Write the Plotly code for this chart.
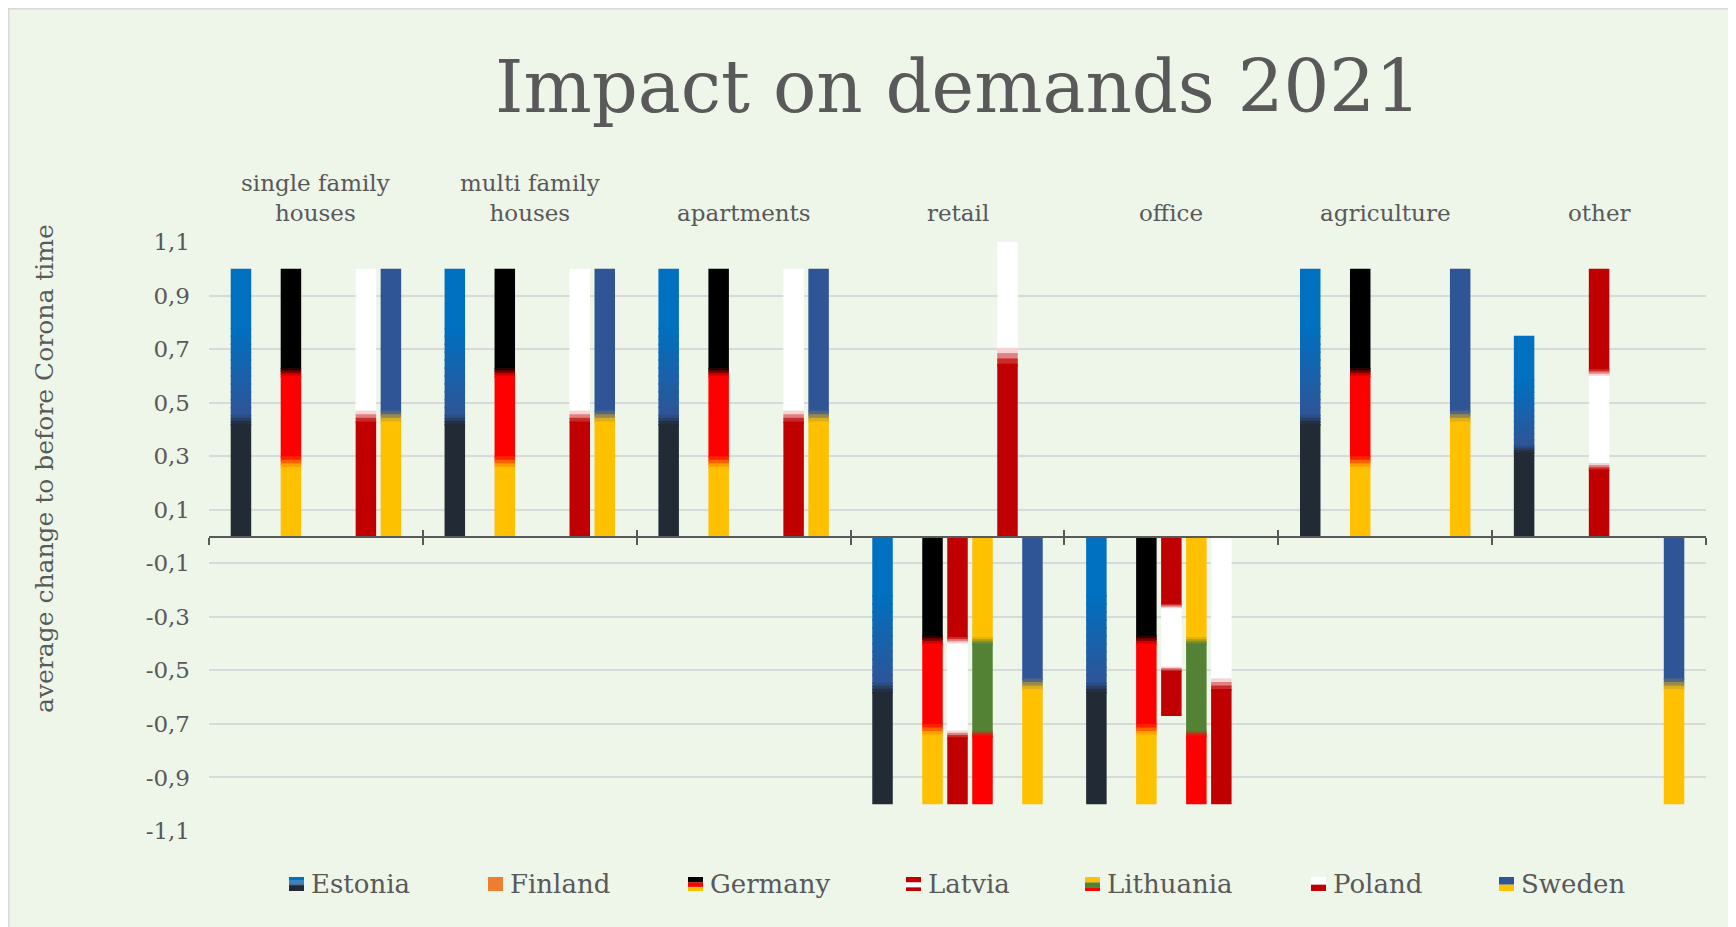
import plotly.graph_objects as go

# ---------------- data ----------------
categories = ["single family houses", "multi family houses", "apartments",
              "retail", "office", "agriculture", "other"]
category_labels = ["single family<br>houses", "multi family<br>houses", "apartments",
                   "retail", "office", "agriculture", "other"]
countries = ["Estonia", "Finland", "Germany", "Latvia", "Lithuania", "Poland", "Sweden"]

estonia = [1, 1, 1, -1, -1, 1, 0.75]
finland = [0, 0, 0, 0, 0, 0, 0]
germany = [1, 1, 1, -1, -1, 1, 0]
latvia = [0, 0, 0, -1, -0.67, 0, 1]
lithuania = [0, 0, 0, -1, -1, 0, 0]
poland = [1, 1, 1, 1.5, -1, 0, 0]
sweden = [1, 1, 1, -1, 0, 1, -1]

y_tick_values = [-1.1, -0.9, -0.7, -0.5, -0.3, -0.1, 0.1, 0.3, 0.5, 0.7, 0.9, 1.1]
y_tick_labels = ["-1,1", "-0,9", "-0,7", "-0,5", "-0,3", "-0,1",
                 "0,1", "0,3", "0,5", "0,7", "0,9", "1,1"]

title_text = "Impact on demands 2021"
y_title_text = "average change to before Corona time"

series = {"Estonia": estonia, "Finland": finland, "Germany": germany, "Latvia": latvia,
          "Lithuania": lithuania, "Poland": poland, "Sweden": sweden}

# ---------------- styles ----------------
FONT = "DejaVu Serif"
TXT = "#595959"
BG = "#EEF5E9"

# gradient stops (fraction from top of bar, colour) imitating the flag fills
FLAGS = {
    "Estonia": [(0, "#0070C0"), (0.22, "#0070C0"), (0.545, "#2E5597"), (0.58, "#222A35"), (1, "#222A35")],
    "Finland": [(0, "#ED7D31"), (1, "#ED7D31")],
    "Germany": [(0, "#000000"), (0.37, "#000000"), (0.40, "#FF0000"), (0.70, "#FF0000"),
                (0.74, "#FFC000"), (1, "#FFC000")],
    "Latvia": [(0, "#C00000"), (0.375, "#C00000"), (0.40, "#FFFFFF"), (0.725, "#FFFFFF"),
               (0.75, "#C00000"), (1, "#C00000")],
    "Lithuania": [(0, "#FFC000"), (0.375, "#FFC000"), (0.40, "#548235"), (0.725, "#548235"),
                  (0.745, "#FF0000"), (1, "#FF0000")],
    "Poland": [(0, "#FFFFFF"), (0.53, "#FFFFFF"), (0.57, "#C00000"), (1, "#C00000")],
    "Sweden": [(0, "#2F5597"), (0.53, "#2F5597"), (0.57, "#FFC000"), (1, "#FFC000")],
}
OVERLAP = 0.006   # each piece reaches slightly into the next one to hide seams

OFF = 8                      # page body margin
W, H = 1726, 919
ML, MT = 201, 234
MR = W - 1698
MB = H - 823
PW, PH = W - ML - MR, H - MT - MB


def px_x(page_x):
    return (page_x - OFF - ML) / PW


def px_y(page_y):
    return (H - MB - (page_y - OFF)) / PH


def hex_rgb(h):
    h = h.lstrip("#")
    return tuple(int(h[i:i + 2], 16) for i in (0, 2, 4))


def mix(c0, c1, t):
    a, b = hex_rgb(c0), hex_rgb(c1)
    return "rgb(%d,%d,%d)" % tuple(round(a[i] + (b[i] - a[i]) * t) for i in range(3))


def segments(stops):
    """Return (start, end, colour) pieces of the gradient fill."""
    segs = []
    for (p0, c0), (p1, c1) in zip(stops[:-1], stops[1:]):
        if p1 <= p0:
            continue
        if c0 == c1:
            segs.append([p0, p1, c0])
        else:
            n = max(3, int(round((p1 - p0) / 0.03)))
            for k in range(n):
                f0 = p0 + (p1 - p0) * k / n
                f1 = p0 + (p1 - p0) * (k + 1) / n
                segs.append([f0, f1, mix(c0, c1, (k + 0.5) / n)])
    for s in segs[:-1]:
        s[1] = min(1.0, s[1] + OVERLAP)
    return segs


fig = go.Figure()

for c in countries:
    vals = series[c]
    for f0, f1, col in segments(FLAGS[c]):
        bases, heights = [], []
        for v in vals:
            top, bot = max(v, 0), min(v, 0)
            h = top - bot
            s_top = top - f0 * h
            s_bot = top - f1 * h
            bases.append(s_bot)
            heights.append(s_top - s_bot)
        fig.add_trace(go.Bar(
            x=categories, y=heights, base=bases, name=c,
            marker=dict(color=col, line=dict(width=0)),
            offsetgroup=c, showlegend=False, hoverinfo="skip",
        ))

# helper trace for the upper half of the cross tick marks on the zero axis
fig.add_trace(go.Scatter(x=categories, y=[0] * len(categories), xaxis="x2",
                         mode="none", showlegend=False, hoverinfo="skip"))

annotations = []
for cat, lab in zip(categories, category_labels):
    annotations.append(dict(x=cat, xref="x", y=px_y(228), yref="paper", text=lab,
                            showarrow=False, xanchor="center", yanchor="bottom",
                            font=dict(family=FONT, size=23, color=TXT)))

annotations.append(dict(x=px_x(44), y=px_y(469), xref="paper", yref="paper",
                        text=y_title_text, textangle=-90, showarrow=False,
                        xanchor="center", yanchor="middle",
                        font=dict(family=FONT, size=25, color=TXT)))

shapes = [dict(type="rect", xref="paper", yref="paper", layer="below",
               x0=px_x(8.75), x1=px_x(1732.5), y0=px_y(960), y1=px_y(8.75),
               fillcolor=BG, line=dict(color="#D9D9D9", width=1.5))]

legend_x = [289, 488, 688, 906, 1085, 1311, 1499]
sw_top, sw_bot, sw_w = 877, 891, 15
for c, lx in zip(countries, legend_x):
    for f0, f1, col in segments(FLAGS[c]):
        shapes.append(dict(type="rect", xref="paper", yref="paper", layer="above",
                           x0=px_x(lx), x1=px_x(lx + sw_w),
                           y0=px_y(sw_top + f1 * (sw_bot - sw_top)),
                           y1=px_y(sw_top + f0 * (sw_bot - sw_top)),
                           fillcolor=col, line=dict(width=0)))
    annotations.append(dict(x=px_x(lx + 20), y=px_y(884), xref="paper", yref="paper",
                            text=c, showarrow=False, xanchor="left", yanchor="middle",
                            font=dict(family=FONT, size=26, color=TXT)))

fig.update_layout(
    width=W, height=H,
    margin=dict(l=ML, r=MR, t=MT, b=MB, pad=0),
    paper_bgcolor="white",
    plot_bgcolor="rgba(0,0,0,0)",
    barmode="group",
    bargap=0.182,
    bargroupgap=0.18,
    showlegend=False,
    title=dict(text=title_text, x=px_x(958), xref="paper", xanchor="center",
               y=1 - (87 - OFF) / H, yref="container", yanchor="middle",
               font=dict(family=FONT, size=72, color=TXT)),
    xaxis=dict(type="category", categoryorder="array", categoryarray=categories,
               range=[-0.5, len(categories) - 0.5], anchor="free", position=0.5,
               showline=True, linecolor="#595959", linewidth=2,
               ticks="outside", tickson="boundaries", ticklen=7, tickwidth=2,
               tickcolor="#595959", showticklabels=False, showgrid=False,
               zeroline=False, layer="above traces"),
    xaxis2=dict(type="category", categoryorder="array", categoryarray=categories,
                range=[-0.5, len(categories) - 0.5], overlaying="x", anchor="free",
                position=0.5, side="bottom", showline=False,
                ticks="inside", tickson="boundaries", ticklen=7, tickwidth=2,
                tickcolor="#595959", showticklabels=False, showgrid=False,
                zeroline=False),
    yaxis=dict(range=[-1.1, 1.1], tickvals=y_tick_values, ticktext=y_tick_labels,
               tickfont=dict(family=FONT, size=23, color=TXT),
               showgrid=True, gridcolor="#D9D9D9", gridwidth=1.5,
               zeroline=False, showline=False, ticks="", ticklabelstandoff=18),
    annotations=annotations,
    shapes=shapes,
)

fig.write_html("out.html")
